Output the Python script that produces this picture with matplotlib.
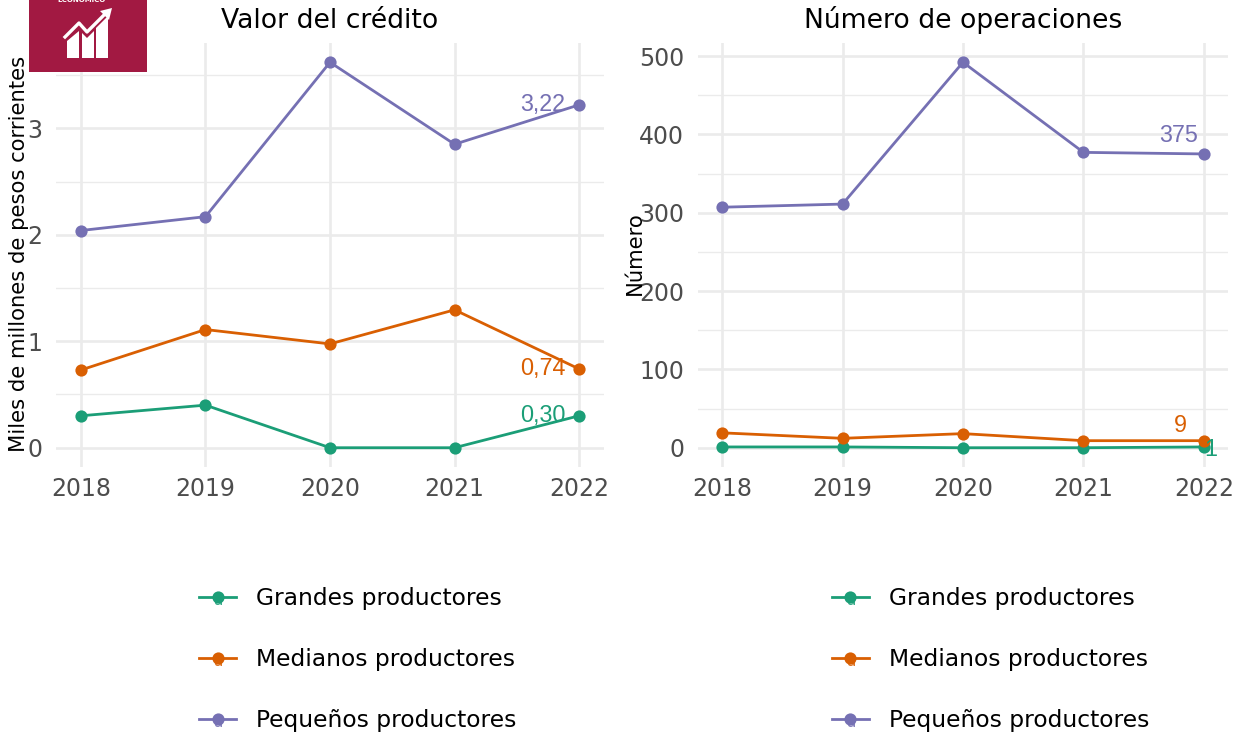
import numpy as np
import matplotlib
matplotlib.use('Agg')
import matplotlib.pyplot as plt
from matplotlib.lines import Line2D
from matplotlib.patches import Rectangle, Polygon

years = [2018, 2019, 2020, 2021, 2022]
series = ['Grandes productores', 'Medianos productores', 'Pequeños productores']
colors = ['#1B9E77', '#D95F02', '#7570B3']

valor_grandes = [0.30, 0.40, 0.00, 0.00, 0.30]
valor_medianos = [0.73, 1.11, 0.975, 1.295, 0.74]
valor_pequenos = [2.04, 2.17, 3.62, 2.85, 3.22]

num_grandes = [1, 1, 0, 0, 1]
num_medianos = [19, 12, 18, 9, 9]
num_pequenos = [307, 311, 492, 377, 375]

valor_labels = ['0,30', '0,74', '3,22']
num_labels = ['1', '9', '375']

W, H = 1238, 734
GRID = '#EBEBEB'
TICK = '#4D4D4D'

fig = plt.figure(figsize=(W / 100, H / 100), dpi=100)


def panel_axes(x0, x1, y0=43, y1=467):
    return fig.add_axes([x0 / W, 1 - y1 / H, (x1 - x0) / W, (y1 - y0) / H])


def draw_panel(ax, data, title, labels, yticks, yminor, lab_off):
    for vals, col, lab, off in zip(data, colors, labels, lab_off):
        ax.plot(years, vals, color=col, lw=2.0, marker='o', ms=8.8, mew=0,
                zorder=3, clip_on=False)
        ax.annotate(lab, (years[-1], vals[-1]), xytext=off, textcoords='offset pixels',
                    color=col, fontsize=16.8, family='Liberation Sans',
                    ha='center', va='center', zorder=4)
    ax.set_xlim(years[0] - 0.2, years[-1] + 0.2)
    ax.set_xticks(years)
    ax.set_yticks(yticks)
    ax.set_yticks(yminor, minor=True)
    ax.grid(True, which='major', color=GRID, lw=1.9)
    ax.grid(True, which='minor', axis='y', color=GRID, lw=1.0)
    ax.set_axisbelow(True)
    ax.tick_params(which='both', length=0)
    ax.tick_params(axis='x', labelsize=17, labelcolor=TICK, pad=7)
    ax.tick_params(axis='y', labelsize=17, labelcolor=TICK, pad=10)
    for s in ax.spines.values():
        s.set_visible(False)
    ax.set_title(title, fontsize=19.2, pad=11)


ax1 = panel_axes(56, 604)
draw_panel(ax1, [valor_grandes, valor_medianos, valor_pequenos], 'Valor del crédito',
           valor_labels, [0, 1, 2, 3], [0.5, 1.5, 2.5, 3.5],
           [(-36, 0), (-36, 0), (-36, 0)])
ax1.set_ylim(-0.181, 3.801)
ax1.set_xlabel('')

ax2 = panel_axes(698, 1228)
draw_panel(ax2, [num_grandes, num_medianos, num_pequenos], 'Número de operaciones',
           num_labels, [0, 100, 200, 300, 400, 500], [50, 150, 250, 350, 450],
           [(7, -3), (-24, 15), (-25, 18)])
ax2.set_ylim(-24.6, 516.6)

fig.text(19 / W, 1 - 254 / H, 'Miles de millones de pesos corrientes', rotation=90,
         fontsize=15.2, ha='center', va='center')
fig.text(635 / W, 1 - 253 / H, 'Número', rotation=90,
         fontsize=15.2, ha='center', va='center')


def legend_at(x_line, x_text):
    for name, col, y in zip(series, colors, [597, 658, 719]):
        fig.add_artist(Line2D([x_line / W, (x_line + 37) / W], [1 - y / H] * 2, color=col,
                              lw=2.0, marker='None'))
        fig.add_artist(Line2D([(x_line + 18.5) / W], [1 - y / H], color=col, marker='o',
                              ms=8.8, mew=0))
        fig.text((x_line + 18.5) / W, 1 - (y + 3.5) / H, 'a', color=col, fontsize=11,
                 ha='center', va='center', alpha=0.9)
        fig.text(x_text / W, 1 - (y - 1) / H, name, fontsize=16.8, ha='left', va='center_baseline')


legend_at(199, 256)
legend_at(832, 889)


# logo del ODS, en pixeles de la figura
def fig_xy(pts):
    return [(x / W, 1 - y / H) for x, y in pts]


logo = '#A21942'
fig.add_artist(Rectangle((29 / W, 1 - 72 / H), 118 / W, 72 / H, transform=fig.transFigure,
                         color=logo, lw=0))
for bar in ([(67, 41), (79, 31), (79, 58), (67, 58)],
            [(82, 33), (87, 38), (94, 31), (94, 58), (82, 58)],
            [(96, 28), (108, 16), (108, 58), (96, 58)]):
    fig.add_artist(Polygon(fig_xy(bar), closed=True, transform=fig.transFigure, color='white', lw=0))
fig.add_artist(Line2D([65 / W, 79 / W, 87 / W, 106 / W], [1 - 37 / H, 1 - 23 / H, 1 - 32 / H, 1 - 13 / H],
                      color='white', lw=2.4))
fig.add_artist(Polygon(fig_xy([(100, 11), (112, 8), (109, 20)]), closed=True,
                       transform=fig.transFigure, color='white', lw=0))
fig.text(82 / W, 1 + 0.5 / H, 'ECONÓMICO', color='white', fontsize=5, weight='bold',
         ha='center', va='center')

fig.savefig('out.png', dpi=100)
